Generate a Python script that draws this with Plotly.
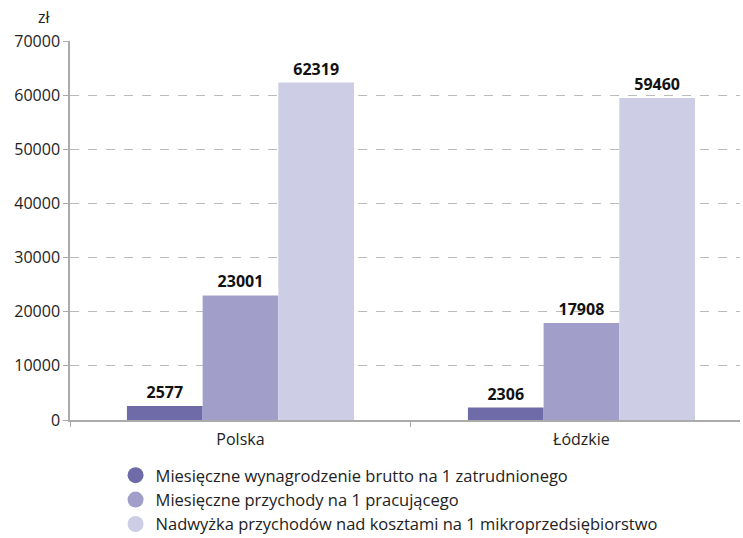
import plotly.graph_objects as go

categories = ["Polska", "Łódzkie"]
series_names = [
    "Miesięczne wynagrodzenie brutto na 1 zatrudnionego",
    "Miesięczne przychody na 1 pracującego",
    "Nadwyżka przychodów nad kosztami na 1 mikroprzedsiębiorstwo",
]
wynagrodzenie = [2577, 2306]
przychody = [23001, 17908]
nadwyzka = [62319, 59460]
colors = ["#6f6ba9", "#a19fca", "#cecde6"]
y_ticks = [0, 10000, 20000, 30000, 40000, 50000, 60000, 70000]

FONT = "Open Sans"
fig = go.Figure()
for name, vals, col in zip(series_names, [wynagrodzenie, przychody, nadwyzka], colors):
    fig.add_trace(go.Bar(
        x=categories, y=vals, name=name, marker_color=col, marker_line_width=0,
        text=[str(v) for v in vals], textposition="outside", cliponaxis=False,
        textfont=dict(family=FONT, size=16, color="#111111", weight="bold"),
        showlegend=False,
    ))
for name, col in zip(series_names, colors):
    fig.add_trace(go.Scatter(
        x=[None], y=[None], mode="markers", name=name,
        marker=dict(symbol="circle", size=22, color=col),
        showlegend=True,
    ))

fig.update_layout(
    width=743, height=538,
    margin=dict(l=70, r=3, t=41, b=118, autoexpand=False),
    paper_bgcolor="white", plot_bgcolor="white",
    barmode="group", bargap=0.334, bargroupgap=0,
    font=dict(family=FONT, size=16, color="#222222"),
    legend=dict(
        orientation="v", x=0.068, xanchor="left", y=-0.1, yanchor="top",
        font=dict(family=FONT, size=16.5, color="#222222"),
        tracegroupgap=0, itemsizing="trace", itemwidth=30,
    ),
    xaxis=dict(
        range=[-0.5, 1.465],
        showline=True, linecolor="#aaaaaa", linewidth=1.5,
        ticks="outside", tickson="boundaries", ticklen=5, tickcolor="#aaaaaa",
        ticklabelstandoff=4,
        tickfont=dict(family=FONT, size=16, color="#222222"), automargin=False,
    ),
    yaxis=dict(
        range=[0, 70000], tickvals=y_ticks, ticktext=[str(v) for v in y_ticks],
        showline=True, linecolor="#aaaaaa", linewidth=1.5,
        ticks="outside", ticklen=5, tickcolor="#aaaaaa",
        showgrid=True, gridcolor="#bbbbbb", griddash="dash", gridwidth=1,
        zeroline=False, automargin=False,
        tickfont=dict(family=FONT, size=16, color="#222222"),
    ),
    annotations=[dict(
        text="zł", xref="paper", yref="paper", x=-0.025, y=1.03,
        xanchor="right", yanchor="bottom", showarrow=False,
        font=dict(family=FONT, size=16, color="#222222"),
    )],
)

fig.write_html(
    "out.html",
    config={"displayModeBar": False},
    post_script="document.body.style.margin='0';document.body.style.padding='0';",
)
